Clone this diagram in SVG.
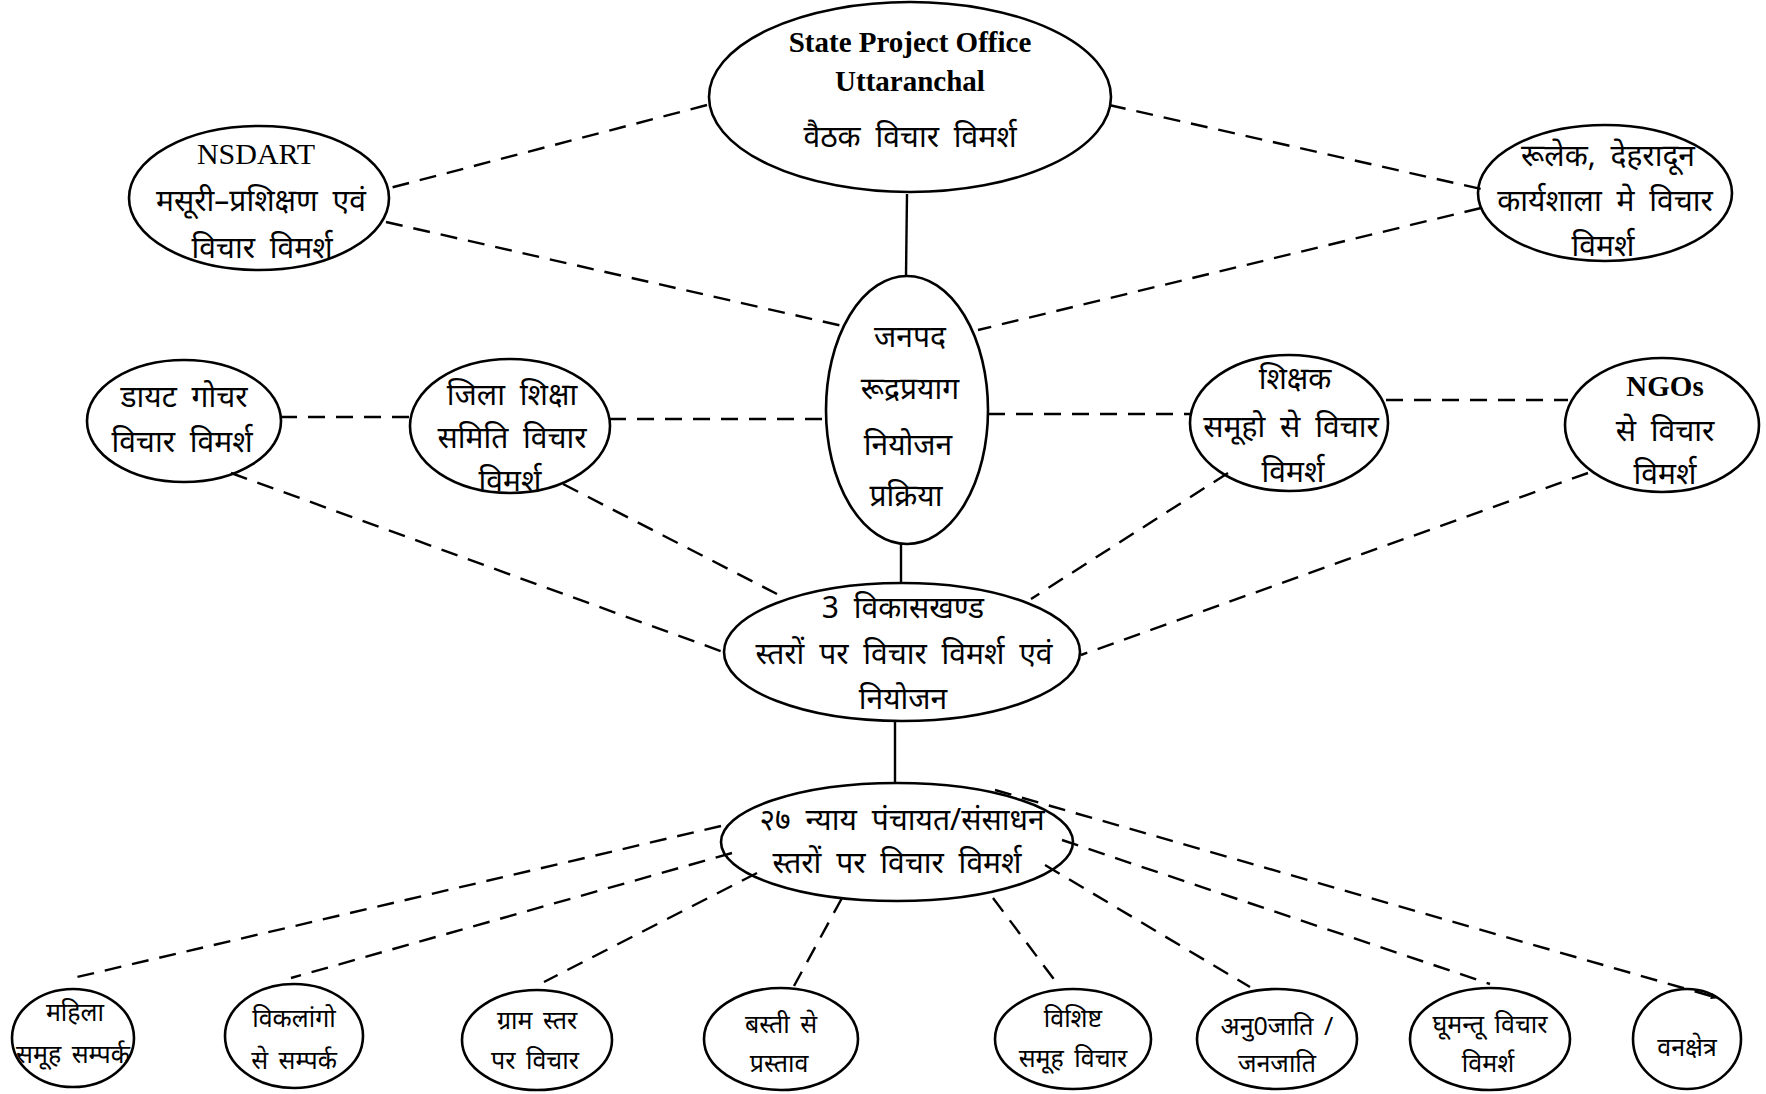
<svg xmlns="http://www.w3.org/2000/svg" width="1766" height="1094" viewBox="0 0 1766 1094">
<style>
.n ellipse{fill:#fff;stroke:#000;stroke-width:2.6}
.dv{font-family:"Noto Sans","Noto Sans Devanagari","Lohit Devanagari",sans-serif;fill:#000;text-anchor:middle;font-size:30px;word-spacing:7px}
.sm{font-size:25px;word-spacing:4px}
.en{font-family:"Liberation Serif",serif;font-weight:bold;fill:#000;text-anchor:middle}
.c line{stroke:#000;stroke-width:2.4;fill:none}
.c .d{stroke-dasharray:17 11}
</style>
<defs>
<marker id="ah" viewBox="0 0 10 10" refX="9" refY="5" markerWidth="9" markerHeight="8" orient="auto" markerUnits="userSpaceOnUse">
<path d="M0,1 L10,5 L0,9 Z" fill="#000"/>
</marker>
</defs>
<rect width="1766" height="1094" fill="#fff"/>
<g id="spo" class="n"><ellipse cx="910" cy="97" rx="201" ry="95"/>
<text class="en" x="910" y="52" font-size="29">State Project Office</text>
<text class="en" x="910" y="91" font-size="29">Uttaranchal</text>
<text class="dv" x="910" y="147" font-size="31">वैठक विचार विमर्श</text></g>
<g id="nsdart" class="n"><ellipse cx="259" cy="198" rx="130" ry="72"/>
<text class="en" x="256" y="164" font-size="30" style="font-weight:normal">NSDART</text>
<text class="dv" x="261" y="211">मसूरी–प्रशिक्षण एवं</text>
<text class="dv" x="262" y="258">विचार विमर्श</text></g>
<g id="rulek" class="n"><ellipse cx="1605" cy="193" rx="127" ry="68"/>
<text class="dv" x="1608" y="166">रूलेक, देहरादून</text>
<text class="dv" x="1605" y="211">कार्यशाला मे विचार</text>
<text class="dv" x="1603" y="256">विमर्श</text></g>
<g id="janpad" class="n"><ellipse cx="907" cy="410" rx="81" ry="134"/>
<text class="dv" x="910" y="347">जनपद</text>
<text class="dv" x="910" y="399">रूद्रप्रयाग</text>
<text class="dv" x="908" y="455">नियोजन</text>
<text class="dv" x="906" y="506">प्रक्रिया</text></g>
<g id="diet" class="n"><ellipse cx="184" cy="421" rx="97" ry="61"/>
<text class="dv" x="184" y="407" font-size="28">डायट गोचर</text>
<text class="dv" x="182" y="452" font-size="28">विचार विमर्श</text></g>
<g id="zila" class="n"><ellipse cx="510" cy="426" rx="100" ry="67"/>
<text class="dv" x="512" y="405" font-size="29">जिला शिक्षा</text>
<text class="dv" x="512" y="448" font-size="29">समिति विचार</text>
<text class="dv" x="510" y="491" font-size="29">विमर्श</text></g>
<g id="shikshak" class="n"><ellipse cx="1289" cy="423" rx="99" ry="68"/>
<text class="dv" x="1295" y="389" font-size="29">शिक्षक</text>
<text class="dv" x="1291" y="437" font-size="29">समूहो से विचार</text>
<text class="dv" x="1293" y="482" font-size="29">विमर्श</text></g>
<g id="ngos" class="n"><ellipse cx="1662" cy="425" rx="97" ry="67"/>
<text class="en" x="1665" y="396" font-size="29">NGOs</text>
<text class="dv" x="1665" y="441" font-size="29">से विचार</text>
<text class="dv" x="1665" y="484" font-size="29">विमर्श</text></g>
<g id="vikas" class="n"><ellipse cx="902" cy="652" rx="178" ry="69"/>
<text class="dv" x="903" y="618" font-size="29">3 विकासखण्ड</text>
<text class="dv" x="904" y="664" font-size="29">स्तरों पर विचार विमर्श एवं</text>
<text class="dv" x="903" y="709" font-size="29">नियोजन</text></g>
<g id="nyay" class="n"><ellipse cx="897" cy="842" rx="176" ry="59"/>
<text class="dv" x="902" y="830" font-size="29">२७ न्याय पंचायत/संसाधन</text>
<text class="dv" x="897" y="873" font-size="29">स्तरों पर विचार विमर्श</text></g>
<g id="mahila" class="n"><ellipse cx="73" cy="1038" rx="61" ry="49"/>
<text class="dv sm" x="75" y="1021">महिला</text>
<text class="dv sm" x="73" y="1063">समूह सम्पर्क</text></g>
<g id="viklang" class="n"><ellipse cx="294" cy="1036" rx="69" ry="52"/>
<text class="dv sm" x="294" y="1027">विकलांगो</text>
<text class="dv sm" x="294" y="1069">से सम्पर्क</text></g>
<g id="gram" class="n"><ellipse cx="537" cy="1040" rx="75" ry="50"/>
<text class="dv sm" x="537" y="1029">ग्राम स्तर</text>
<text class="dv sm" x="535" y="1069">पर विचार</text></g>
<g id="basti" class="n"><ellipse cx="781" cy="1039" rx="77" ry="51"/>
<text class="dv sm" x="781" y="1033">बस्ती से</text>
<text class="dv sm" x="779" y="1072">प्रस्ताव</text></g>
<g id="vishisht" class="n"><ellipse cx="1073" cy="1039" rx="78" ry="50"/>
<text class="dv sm" x="1073" y="1027">विशिष्ट</text>
<text class="dv sm" x="1073" y="1067">समूह विचार</text></g>
<g id="anujati" class="n"><ellipse cx="1277" cy="1039" rx="80" ry="50"/>
<text class="dv sm" x="1277" y="1035">अनु0जाति /</text>
<text class="dv sm" x="1277" y="1072">जनजाति</text></g>
<g id="ghumantu" class="n"><ellipse cx="1490" cy="1039" rx="80" ry="51"/>
<text class="dv sm" x="1490" y="1033">घूमन्तू विचार</text>
<text class="dv sm" x="1488" y="1072">विमर्श</text></g>
<g id="vankshetra" class="n"><ellipse cx="1687" cy="1039" rx="54" ry="50"/>
<text class="dv sm" x="1687" y="1056">वनक्षेत्र</text></g>
<g id="connectors" class="c">
<line class="d" x1="707" y1="105" x2="386" y2="189"/>
<line class="d" x1="386" y1="222" x2="847" y2="327"/>
<line class="d" x1="1109" y1="105" x2="1481" y2="189"/>
<line class="d" x1="1481" y1="208" x2="978" y2="330"/>
<line x1="907" y1="194" x2="906" y2="276"/>
<line class="d" x1="280" y1="417" x2="411" y2="417"/>
<line class="d" x1="609" y1="419" x2="828" y2="419"/>
<line class="d" x1="988" y1="414" x2="1192" y2="414"/>
<line class="d" x1="1386" y1="400" x2="1568" y2="400"/>
<line class="d" x1="231" y1="473" x2="726" y2="653"/>
<line class="d" x1="563" y1="484" x2="777" y2="594"/>
<line class="d" x1="1228" y1="473" x2="1031" y2="599"/>
<line class="d" x1="1588" y1="473" x2="1081" y2="655"/>
<line x1="901" y1="544" x2="901" y2="583"/>
<line x1="895" y1="721" x2="895" y2="783"/>
<line class="d" x1="721" y1="826" x2="73" y2="978"/>
<line class="d" x1="732" y1="853" x2="291" y2="978"/>
<line class="d" x1="757" y1="873" x2="544" y2="982"/>
<line class="d" x1="842" y1="898" x2="794" y2="986"/>
<line class="d" x1="993" y1="898" x2="1059" y2="986"/>
<line class="d" x1="1045" y1="865" x2="1250" y2="987"/>
<line class="d" x1="1062" y1="840" x2="1490" y2="984"/>
<line class="d" x1="995" y1="790" x2="1718" y2="998" marker-end="url(#ah)"/>
</g>
</svg>
